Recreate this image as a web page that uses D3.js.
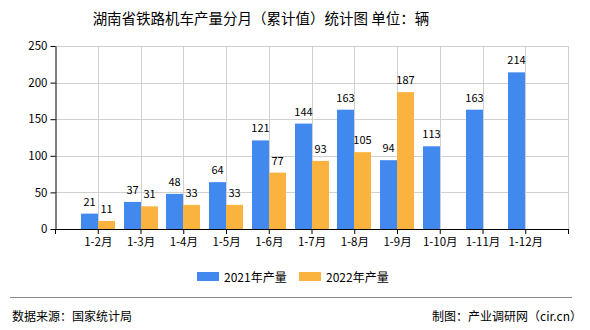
<!DOCTYPE html>
<html>
<head>
<meta charset="utf-8">
<script src="https://cdn.jsdelivr.net/npm/d3@7"></script>
<style>
  html, body { margin: 0; padding: 0; background: #fff; }
  svg text { font-family: "Noto Sans CJK SC", "DejaVu Sans", sans-serif; fill: #000; }
</style>
</head>
<body>
<svg id="chart" width="590" height="330"></svg>
<script>
// Cumulative monthly output of railway locomotives, Hunan (units)
const categories = ["1-2月", "1-3月", "1-4月", "1-5月", "1-6月", "1-7月", "1-8月", "1-9月", "1-10月", "1-11月", "1-12月"];
const values2021 = [21, 37, 48, 64, 121, 144, 163, 94, 113, 163, 214];
const values2022 = [11, 31, 33, 33, 77, 93, 105, 187, null, null, null];
const seriesNames = ["2021年产量", "2022年产量"];
const seriesColors = ["#4189ee", "#fbb340"];
const yTicks = [0, 50, 100, 150, 200, 250];

const svg = d3.select("#chart");
const plotL = 55, plotR = 568, plotT = 46, plotB = 229;
const barW = 17;

const x = d3.scalePoint().domain(categories).range([plotL, plotR]).padding(1);
const y = d3.scaleLinear().domain([0, 250]).range([plotB, plotT]);

// title
svg.append("text")
  .attr("x", 261).attr("y", 24)
  .attr("text-anchor", "middle")
  .style("font-size", "14.5px")
  .text("湖南省铁路机车产量分月（累计值）统计图 单位：辆");

// grid
const grid = svg.append("g").attr("stroke", "#d0d0d0").attr("stroke-width", 1);
yTicks.filter(d => d > 0).forEach(t => {
  grid.append("line").attr("x1", plotL).attr("x2", plotR)
    .attr("y1", Math.round(y(t)) + 0.5).attr("y2", Math.round(y(t)) + 0.5);
});
categories.forEach(c => {
  grid.append("line").attr("x1", Math.round(x(c)) + 0.5).attr("x2", Math.round(x(c)) + 0.5)
    .attr("y1", plotT).attr("y2", plotB);
});
grid.append("line").attr("x1", plotR + 0.5).attr("x2", plotR + 0.5).attr("y1", plotT).attr("y2", plotB);

// bars
const series = [values2021, values2022];
series.forEach((vals, si) => {
  const g = svg.append("g");
  categories.forEach((c, i) => {
    const v = vals[i];
    if (v == null) return;
    const bx = Math.round(x(c)) + (si === 0 ? -barW : 0);
    g.append("rect")
      .attr("x", bx).attr("y", y(v))
      .attr("width", barW).attr("height", plotB - y(v))
      .attr("fill", seriesColors[si]);
    g.append("text")
      .attr("x", bx + barW / 2).attr("y", y(v) - 8)
      .attr("text-anchor", "middle")
      .style("font-size", "11px")
      .text(v);
  });
});

// y axis
const yAxis = svg.append("g").attr("transform", `translate(${plotL + 0.5},0)`)
  .call(d3.axisLeft(y).tickValues(yTicks).tickSize(5).tickSizeOuter(0).tickPadding(3));
yAxis.select(".domain").attr("stroke", "#000");
yAxis.selectAll(".tick line").attr("stroke", "#000");
yAxis.selectAll(".tick text").style("font-size", "11.5px").attr("font-family", null);

// x axis
const xAxis = svg.append("g").attr("transform", `translate(0,${plotB})`)
  .call(d3.axisBottom(x).tickSize(5).tickSizeOuter(0).tickPadding(4));
xAxis.select(".domain").attr("stroke", "#000").attr("d", `M${plotL},0.5H${plotR + 1}`);
xAxis.selectAll(".tick line").attr("stroke", "#000");
xAxis.selectAll(".tick text").style("font-size", "11.5px").attr("font-family", null);
[plotL, plotR].forEach(px => {
  xAxis.append("line").attr("x1", px + 0.5).attr("x2", px + 0.5).attr("y1", 0).attr("y2", 5).attr("stroke", "#000");
});

// legend
const legendX = [197, 299];
seriesNames.forEach((n, i) => {
  svg.append("rect").attr("x", legendX[i]).attr("y", 272).attr("width", 22).attr("height", 9).attr("fill", seriesColors[i]);
  svg.append("text").attr("x", legendX[i] + 27).attr("y", 281.5).style("font-size", "12px").text(n);
});

// footer
svg.append("line").attr("x1", 10).attr("x2", 572).attr("y1", 297.5).attr("y2", 297.5).attr("stroke", "#888").attr("stroke-width", 1);
svg.append("text").attr("x", 12).attr("y", 321).style("font-size", "12px").text("数据来源：国家统计局");
svg.append("text").attr("x", 582).attr("y", 321).attr("text-anchor", "end").style("font-size", "12px").text("制图：产业调研网（cir.cn）");
</script>
</body>
</html>
